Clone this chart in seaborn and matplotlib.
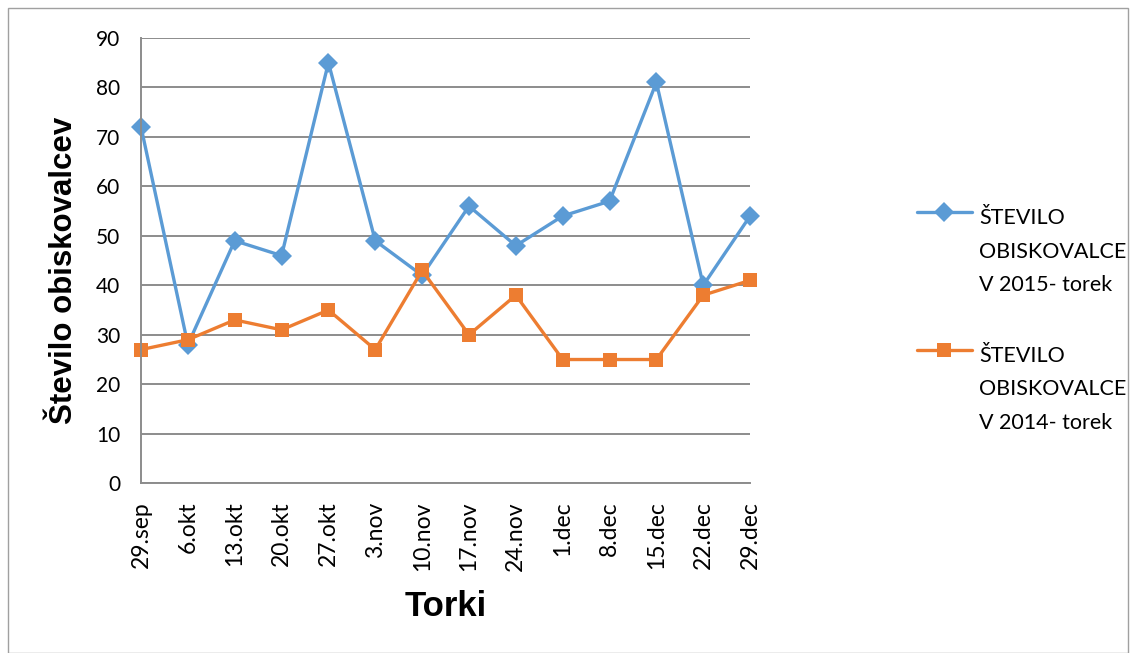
import numpy as np
import pandas as pd
import matplotlib
matplotlib.use("Agg")
import matplotlib.pyplot as plt
import seaborn as sns
from matplotlib.lines import Line2D
from matplotlib.legend_handler import HandlerLine2D
from matplotlib.patches import Rectangle

# data
torki = ["29.sep", "6.okt", "13.okt", "20.okt", "27.okt", "3.nov", "10.nov",
         "17.nov", "24.nov", "1.dec", "8.dec", "15.dec", "22.dec", "29.dec"]
obisk_2015 = [72, 28, 49, 46, 85, 49, 42, 56, 48, 54, 57, 81, 40, 54]
obisk_2014 = [27, 29, 33, 31, 35, 27, 43, 30, 38, 25, 25, 25, 38, 41]
label_2015 = "ŠTEVILO\nOBISKOVALCE\nV 2015- torek"
label_2014 = "ŠTEVILO\nOBISKOVALCE\nV 2014- torek"


class FirstLineHandler(HandlerLine2D):
    # Excel puts the legend key next to the first line of a wrapped label
    def __init__(self, raise_pt, **kw):
        super().__init__(**kw)
        self.raise_pt = raise_pt

    def create_artists(self, legend, orig_handle, xdescent, ydescent, width,
                       height, fontsize, trans):
        return super().create_artists(legend, orig_handle, xdescent,
                                      ydescent - 2 * self.raise_pt, width,
                                      height, fontsize, trans)


sns.set_style("white")
plt.rcParams['font.family'] = ['Lato', 'DejaVu Sans']
plt.rcParams['text.color'] = 'black'
plt.rcParams['axes.labelcolor'] = 'black'
plt.rcParams['xtick.color'] = 'black'
plt.rcParams['ytick.color'] = 'black'

df = pd.DataFrame({
    "idx": list(range(len(torki))) * 2,
    "value": obisk_2015 + obisk_2014,
    "serija": [label_2015] * len(torki) + [label_2014] * len(torki),
})

fig = plt.figure(figsize=(11.3, 6.53), dpi=100)
ax = fig.add_axes([0.1248, 0.260, 0.539, 0.682])

palette = {label_2015: "#5B9BD5", label_2014: "#ED7D31"}
markers = {label_2015: "D", label_2014: "s"}
sns.lineplot(data=df, x="idx", y="value", hue="serija", style="serija",
             palette=palette, markers=markers, dashes=False, sort=False,
             linewidth=2.4, markersize=10, markeredgewidth=0, ax=ax)
for ln in ax.lines:
    ln.set_clip_on(False)

ax.set_xlim(0, len(torki) - 1)
ax.set_ylim(0, 90)
ax.set_yticks(np.arange(0, 91, 10))
ax.set_xticks(range(len(torki)))
ax.set_xticklabels(torki, rotation=90, fontsize=16.5)
ax.tick_params(axis="y", labelsize=15, length=5, color="#8c8c8c", width=1.3, pad=10,
               labelcolor="black")
ax.tick_params(axis="x", length=7, color="#8c8c8c", width=1.3, pad=6,
               labelcolor="black")
ax.grid(axis="y", color="#8c8c8c", linewidth=1.4)
ax.set_axisbelow(True)
for s in ["top", "right"]:
    ax.spines[s].set_visible(False)
for s in ["left", "bottom"]:
    ax.spines[s].set_color("#8c8c8c")
    ax.spines[s].set_linewidth(1.4)

ax.set_xlabel("Torki", fontsize=25, fontweight="bold", color="black",
              family=['Liberation Sans'])
ax.set_ylabel("Število obiskovalcev", fontsize=22.5, fontweight="bold", color="black",
              family=['Liberation Sans'])
ax.xaxis.set_label_coords(0.5, -0.276)
ax.xaxis.label.set_va("center")
ax.yaxis.set_label_coords(-0.126, 0.479)
ax.yaxis.label.set_va("center")

handles, labels = ax.get_legend_handles_labels()
if ax.get_legend():
    ax.get_legend().remove()
leg = fig.legend(handles, labels, loc="upper left",
                 bbox_to_anchor=(917 / 1130, 1 - 208 / 653),
                 bbox_transform=fig.transFigure, frameon=False,
                 borderpad=0, borderaxespad=0,
                 handlelength=2.55, handletextpad=0.33, labelspacing=2.35,
                 prop={'family': ['Lato', 'DejaVu Sans'], 'size': 15.5},
                 handler_map={Line2D: FirstLineHandler(raise_pt=28.5)})
for t in leg.get_texts():
    t.set_linespacing(1.85)
    t.set_color("black")

fig.patches.append(Rectangle((8 / 1130, 0.0), 1 - 8 / 1130 - 0.002, 1 - 8 / 653,
                             transform=fig.transFigure, fill=False,
                             edgecolor="#a0a0a0", linewidth=1.0))

fig.savefig("out.png", dpi=100)
